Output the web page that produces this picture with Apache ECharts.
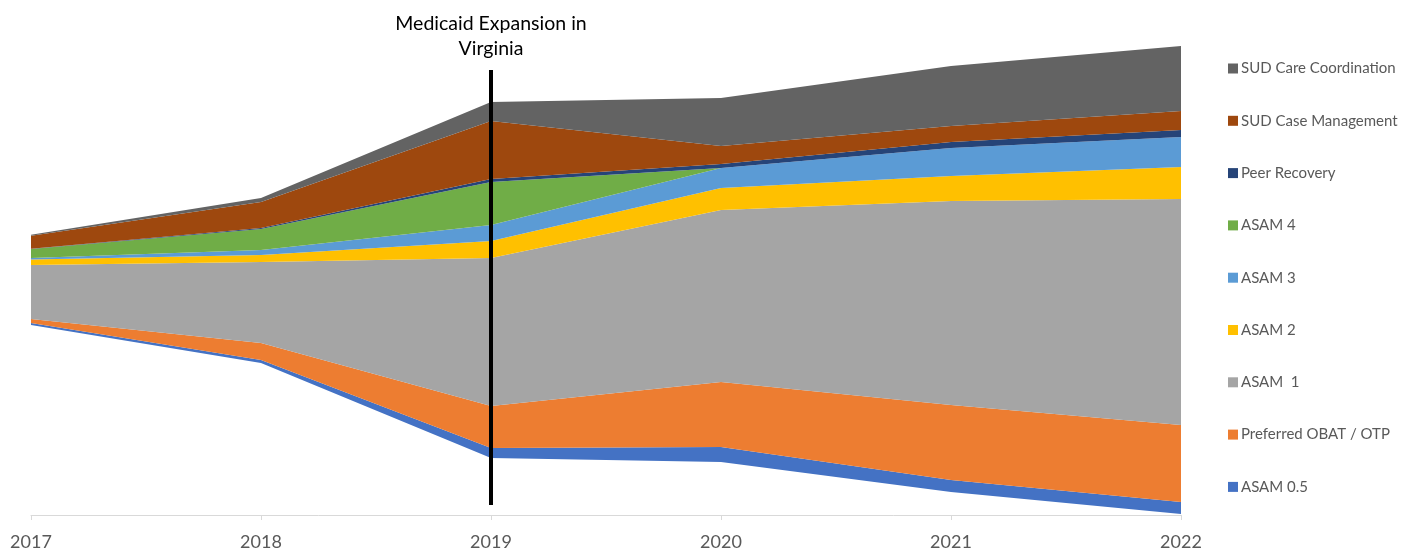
<!DOCTYPE html>
<html>
<head>
<meta charset="utf-8">
<title>SUD services</title>
<script src="https://cdn.jsdelivr.net/npm/echarts@6/dist/echarts.min.js"></script>
<style>
  html, body { margin: 0; padding: 0; background: #fff; }
  #chart { width: 1409px; height: 553px; }
</style>
</head>
<body>
<div id="chart"></div>
<script>
// categories
const years = ["2017", "2018", "2019", "2020", "2021", "2022"];

// hidden base that lifts the stack off the axis
const baseOffset = [190, 152, 57, 53, 23, 1];

// series values, bottom of the stack first
const asam05 = [2, 3, 10, 15, 12, 12];
const obatOtp = [4, 17, 42, 65, 75, 77];
const asam1 = [54, 81, 148, 172, 204, 226];
const asam2 = [5.5, 7, 17, 22, 25, 32];
const asam3 = [1.5, 5, 16, 20, 28, 30];
const asam4 = [9, 21, 43, 0, 0, 0];
const peerRecovery = [0.3, 1, 3, 4, 6, 7];
const caseManagement = [13, 26, 58, 18, 16, 19];
const careCoordination = [1, 4, 19, 48, 60, 65];

// expansion marker (value units)
const expansionYear = "2019";
const expansionLine = [10, 445];

const layers = [
  { name: "ASAM 0.5", data: asam05, color: "#4472C4" },
  { name: "Preferred OBAT / OTP", data: obatOtp, color: "#ED7D31" },
  { name: "ASAM  1", data: asam1, color: "#A5A5A5" },
  { name: "ASAM 2", data: asam2, color: "#FFC000" },
  { name: "ASAM 3", data: asam3, color: "#5B9BD5" },
  { name: "ASAM 4", data: asam4, color: "#70AD47" },
  { name: "Peer Recovery", data: peerRecovery, color: "#264478" },
  { name: "SUD Case Management", data: caseManagement, color: "#9E480E" },
  { name: "SUD Care Coordination", data: careCoordination, color: "#636363" },
];

const chart = echarts.init(document.getElementById("chart"));

const series = [
  {
    name: "base",
    type: "line",
    stack: "total",
    data: baseOffset,
    symbol: "none",
    silent: true,
    lineStyle: { opacity: 0 },
    areaStyle: { opacity: 0 },
  },
];

layers.forEach((l) => {
  series.push({
    name: l.name,
    type: "line",
    stack: "total",
    data: l.data,
    symbol: "none",
    color: l.color,
    lineStyle: { width: 0 },
    areaStyle: { color: l.color, opacity: 1 },
  });
});

// black vertical line with its caption
series.push({
  name: "expansion",
  type: "line",
  data: [],
  silent: true,
  markLine: {
    symbol: "none",
    silent: true,
    animation: false,
    lineStyle: { color: "#000", width: 4, type: "solid" },
    label: {
      show: true,
      position: "end",
      distance: 9,
      color: "#000",
      fontFamily: "Lato",
      fontSize: 19.5,
      lineHeight: 25,
      align: "center",
      formatter: "Medicaid Expansion in\nVirginia",
    },
    data: [
      [
        { coord: [expansionYear, expansionLine[0]] },
        { coord: [expansionYear, expansionLine[1]] },
      ],
    ],
  },
});

const option = {
  animation: false,
  grid: { left: 31, right: 228, top: 15, bottom: 38 },
  legend: {
    orient: "vertical",
    left: 1223,
    top: 56,
    icon: "rect",
    itemWidth: 10,
    itemHeight: 10,
    itemGap: 37.3,
    textStyle: {
      color: "#595959",
      fontFamily: "Lato",
      fontSize: 15,
      padding: [0, 0, 0, -2],
    },
    data: layers.map((l) => l.name).reverse(),
  },
  xAxis: {
    type: "category",
    boundaryGap: false,
    data: years,
    axisLine: { lineStyle: { color: "#D9D9D9", width: 1 } },
    axisTick: { show: true, length: 5, lineStyle: { color: "#D9D9D9" } },
    axisLabel: {
      color: "#595959",
      fontFamily: "Lato",
      fontSize: 18,
      margin: 18,
    },
  },
  yAxis: {
    type: "value",
    min: 0,
    max: 500,
    show: false,
  },
  series: series,
};

chart.setOption(option);
</script>
</body>
</html>
